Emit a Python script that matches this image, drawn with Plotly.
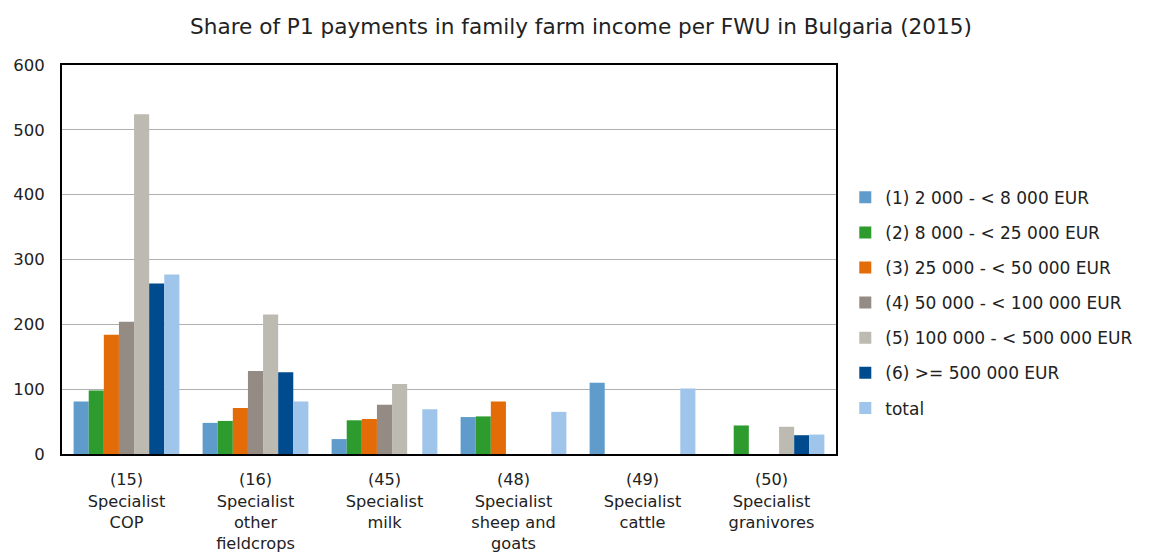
import plotly.graph_objects as go

categories = ["(15)<br>Specialist<br>COP", "(16)<br>Specialist<br>other<br>fieldcrops",
              "(45)<br>Specialist<br>milk", "(48)<br>Specialist<br>sheep and<br>goats",
              "(49)<br>Specialist<br>cattle", "(50)<br>Specialist<br>granivores"]

series_names = ["(1) 2 000 - < 8 000 EUR", "(2) 8 000 - < 25 000 EUR",
                "(3) 25 000 - < 50 000 EUR", "(4) 50 000 - < 100 000 EUR",
                "(5) 100 000 - < 500 000 EUR", "(6) >= 500 000 EUR", "total"]

s1 = [81, 48, 23, 57, 110, None]
s2 = [98, 51, 52, 58, None, 44]
s3 = [184, 71, 54, 81, None, None]
s4 = [204, 128, 76, None, None, None]
s5 = [524, 215, 108, None, None, 42]
s6 = [263, 126, None, None, None, 29]
total = [277, 81, 69, 65, 101, 30]

colors = ["#5F9BCB", "#2E9B2E", "#E36C09", "#948B84", "#BDBAB1", "#004B8D", "#9FC5EA"]

fig = go.Figure()
for i, (name, vals) in enumerate(zip(series_names, [s1, s2, s3, s4, s5, s6, total])):
    fig.add_trace(go.Bar(x=categories, y=vals, name=name, marker_color=colors[i],
                         marker_line_width=0, legendgroup=str(i)))

fig.update_layout(
    width=1146, height=544,
    margin=dict(l=54, r=318, t=57, b=98),
    paper_bgcolor="white", plot_bgcolor="white",
    font=dict(family="DejaVu Sans", size=16, color="#222"),
    title=dict(text="Share of P1 payments in family farm income per FWU in Bulgaria (2015)",
               x=0.5, xanchor="center", y=0.967, yanchor="middle",
               font=dict(size=21.6, color="#222")),
    barmode="group", bargap=0.18, bargroupgap=0,
    legend=dict(x=1.012, xanchor="left", y=0.705, yanchor="top",
                tracegroupgap=10, font=dict(size=17), itemwidth=30),
    showlegend=True,
)
fig.update_xaxes(showline=True, linecolor="black", linewidth=2, mirror=True,
                 ticks="", tickfont=dict(size=16.2), automargin=False,
                 ticklabelstandoff=10)
fig.update_yaxes(range=[0, 600], dtick=100, showgrid=True, gridcolor="#B0B0B0",
                 gridwidth=1, showline=True, linecolor="black", linewidth=2,
                 mirror=True, ticks="", tickfont=dict(size=16.5), zeroline=False,
                 ticklabelstandoff=12, automargin=False)

fig.write_html("out.html")
